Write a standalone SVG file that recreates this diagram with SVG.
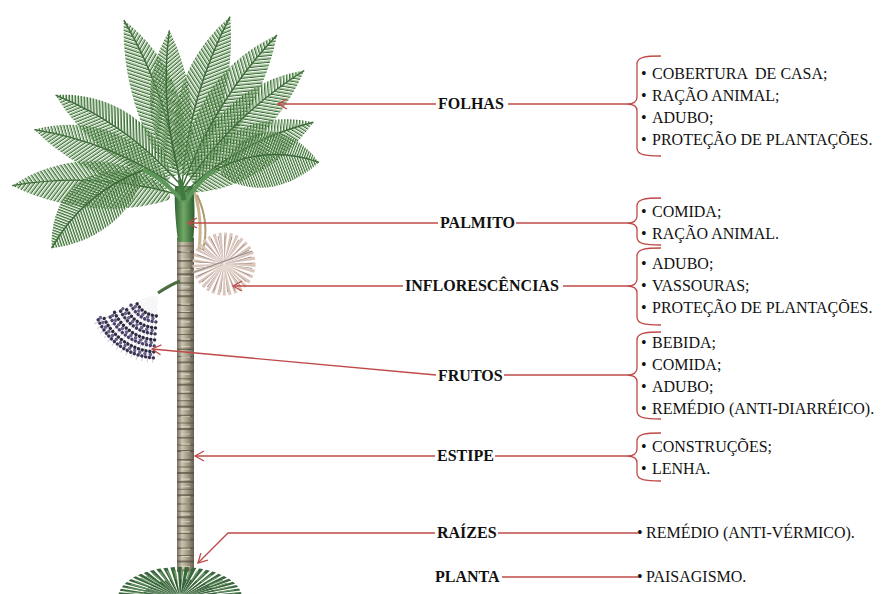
<svg xmlns="http://www.w3.org/2000/svg" width="885" height="594" viewBox="0 0 885 594">
<style>
  .lbl{font-family:"Liberation Serif","Times New Roman",serif;font-size:16px;font-weight:bold;fill:#111}
  .itm{font-family:"Liberation Serif","Times New Roman",serif;font-size:16px;fill:#111;white-space:pre}
  .con{fill:none;stroke:#bf4a47;stroke-width:1.3}
  .brk{fill:none;stroke:#bf4a47;stroke-width:1.3}
  .bead{fill:none;stroke-linecap:round;stroke-width:3.4}
</style>
<defs>
  <!-- leaflet stripes: upper side slants toward the tip, lower side droops -->
  <pattern id="lfU" patternUnits="userSpaceOnUse" width="2" height="6" patternTransform="rotate(35)">
    <rect width="0.7" height="6" fill="#3d6b3a"/>
    <rect x="0.7" width="0.6" height="6" fill="#80ad73"/>
  </pattern>
  <pattern id="lfD" patternUnits="userSpaceOnUse" width="2" height="6" patternTransform="rotate(-35)">
    <rect width="0.7" height="6" fill="#3a6837"/>
    <rect x="0.7" width="0.6" height="6" fill="#86b379"/>
  </pattern>
  <linearGradient id="trunkG" x1="0" x2="1" y1="0" y2="0">
    <stop offset="0" stop-color="#77705f"/>
    <stop offset="0.3" stop-color="#cbc4b0"/>
    <stop offset="0.6" stop-color="#a59e8a"/>
    <stop offset="1" stop-color="#666050"/>
  </linearGradient>
  <linearGradient id="shaftG" x1="0" x2="1" y1="0" y2="0">
    <stop offset="0" stop-color="#2f6431"/>
    <stop offset="0.45" stop-color="#72a866"/>
    <stop offset="1" stop-color="#2c5c2e"/>
  </linearGradient>
  <!-- one frond, base at origin, tip at x=100 -->
  <g id="frond">
    <path d="M6,-1 C30,-26 70,-26 100,-4 Q50,-14 6,-1 Z" fill="url(#lfU)"/>
    <path d="M100,-4 C72,10 35,14 6,3 L6,-1 Q50,-14 100,-4 Z" fill="url(#lfD)"/>
    <path d="M0,0 Q50,-14 100,-4" fill="none" stroke="#3b6a38" stroke-width="1.4" vector-effect="non-scaling-stroke"/>
  </g>
  <marker id="ah" markerUnits="userSpaceOnUse" markerWidth="12" markerHeight="12" viewBox="-1 -6 12 12" refX="0" refY="0" orient="auto" overflow="visible">
    <path d="M9,-5 L0,0 L9,5" fill="none" stroke="#bf4a47" stroke-width="1.3"/>
  </marker>
</defs>

<rect width="885" height="594" fill="#ffffff"/>

<g id="tree">
  <!-- stem -->
  <rect x="177" y="238" width="17" height="334" fill="url(#trunkG)"/>
  <path d="M185.5,238 V572" stroke="#4e493d" stroke-width="17" stroke-dasharray="1.6 6 1 4.5 2 7" opacity="0.65"/>
  <path d="M185.5,241 V572" stroke="#e2dccb" stroke-width="9" stroke-dasharray="1 9 1.5 6" opacity="0.6"/>

  <!-- ground tuft -->
  <g transform="translate(180,598) scale(2,1)">
    <path d="M-17,0 A17,17 0 0 1 17,0" fill="none" stroke="#3a673d" stroke-width="28" stroke-dasharray="1.2 0.8"/>
    <path d="M-16,0 A16,16 0 0 1 16,0" fill="none" stroke="#6f9c68" stroke-width="24" stroke-dasharray="0.6 1.6" stroke-dashoffset="0.9"/>
    <path d="M-12,0 A12,12 0 0 1 12,0" fill="none" stroke="#2e5532" stroke-width="14" stroke-dasharray="0.5 1.2"/>
  </g>

  <!-- spathes and crownshaft -->
  <path d="M193,188 Q203,215 199,250" fill="none" stroke="#c9b68f" stroke-width="3"/>
  <path d="M197,195 Q210,222 203,250" fill="none" stroke="#b09a70" stroke-width="2"/>
  <path d="M175,186 C174,205 176,225 178,242 L193,242 C195,222 195,204 193,186 Z" fill="url(#shaftG)"/>

  <!-- crown: back fronds first -->
  <use href="#frond" transform="translate(180,185) rotate(-110.8) scale(1.74,-1.5)"/>
  <use href="#frond" transform="translate(182,185) rotate(-72.1) scale(1.75,1.5)"/>
  <use href="#frond" transform="translate(182,185) rotate(-92.6) scale(1.55,1.4)"/>
  <use href="#frond" transform="translate(183,185) rotate(-56) scale(1.77,1.5)"/>
  <use href="#frond" transform="translate(184,188) rotate(-42.3) scale(1.68,1.5)"/>
  <use href="#frond" transform="translate(178,182) rotate(-146.9) scale(1.5,-1.5)"/>
  <use href="#frond" transform="translate(178,188) rotate(-160.1) scale(1.55,-1.5)"/>
  <use href="#frond" transform="translate(185,192) rotate(-26) scale(1.46,1.6)"/>
  <use href="#frond" transform="translate(180,195) rotate(-179) scale(1.68,-1.6)"/>
  <use href="#frond" transform="translate(215,170) rotate(0) scale(1.04,1.9)"/>
  <use href="#frond" transform="translate(143,170) rotate(136) scale(1.2,-1.8)"/>

  <!-- petioles -->
  <path d="M183,202 Q162,177 143,170" fill="none" stroke="#5d985a" stroke-width="4"/>
  <path d="M186,202 Q198,180 215,170" fill="none" stroke="#5d985a" stroke-width="4"/>
  <path d="M184,200 Q182,190 180,180" fill="none" stroke="#3f7a3e" stroke-width="5"/>

  <!-- inflorescence -->
  <circle cx="224" cy="264" r="16" fill="none" stroke="#dcc6bc" stroke-width="31" stroke-dasharray="1.6 1.4"/>
  <circle cx="224" cy="264" r="15" fill="none" stroke="#8f8079" stroke-width="27" stroke-dasharray="0.4 3.4" stroke-dashoffset="1.6"/>
  <path d="M192,273 L252,251" stroke="#9a8c86" stroke-width="1.2"/>

  <!-- fruit bunch -->
  <path d="M180,281 Q170,285 158,293" fill="none" stroke="#4d6e43" stroke-width="3"/>
  <path d="M155.35,329.9 A38,38 0 0 1 123.3,307.45" fill="none" stroke="#bdb9c6" stroke-width="66" stroke-dasharray="0.5 2.5" opacity="0.8"/>
  <g class="bead" stroke-dasharray="0.1 3.8">
    <path d="M156.32,315.94 A24,24 0 0 1 136.08,301.76" stroke="#2d2940"/>
    <path d="M155.91,321.93 A30,30 0 0 1 130.59,304.2" stroke="#4b4068"/>
    <path d="M155.49,327.91 A36,36 0 0 1 125.11,306.64" stroke="#2d2940"/>
    <path d="M155.07,333.9 A42,42 0 0 1 119.63,309.08" stroke="#3a3355"/>
    <path d="M154.65,339.88 A48,48 0 0 1 114.15,311.52" stroke="#2d2940"/>
    <path d="M154.23,345.87 A54,54 0 0 1 108.67,313.96" stroke="#4b4068"/>
    <path d="M153.81,351.86 A60,60 0 0 1 103.19,316.4" stroke="#2d2940"/>
    <path d="M153.39,357.84 A66,66 0 0 1 97.71,318.84" stroke="#3a3355"/>
  </g>
  <g class="bead" stroke-dasharray="0.1 5.3" stroke-dashoffset="2.2" stroke-width="2.6">
    <path d="M156.1,318.9 A27,27 0 0 1 133.3,303" stroke="#6a6088"/>
    <path d="M155.3,330.9 A39,39 0 0 1 122.4,307.9" stroke="#6a6088"/>
    <path d="M154.4,342.9 A51,51 0 0 1 111.4,312.7" stroke="#6a6088"/>
    <path d="M153.6,354.8 A63,63 0 0 1 100.4,317.6" stroke="#6a6088"/>
  </g>
</g>

<g id="connectors">
  <path class="con" d="M278,104 H436" marker-start="url(#ah)"/>
  <path class="con" d="M508,104 H627"/>
  <path class="con" d="M188,223 H438" marker-start="url(#ah)"/>
  <path class="con" d="M516,223 H627"/>
  <path class="con" d="M233,286 H403" marker-start="url(#ah)"/>
  <path class="con" d="M563,286 H627"/>
  <path class="con" d="M152,349 L436,375" marker-start="url(#ah)"/>
  <path class="con" d="M504,375 H627"/>
  <path class="con" d="M195,456 H435" marker-start="url(#ah)"/>
  <path class="con" d="M495,456 H627"/>
  <path class="con" d="M198,563 L228,533 H435" marker-start="url(#ah)"/>
  <path class="con" d="M498,533 H638"/>
  <path class="con" d="M502,577 H638"/>
</g>

<g id="node-folhas">
  <text class="lbl" x="438" y="109">FOLHAS</text>
  <path class="brk" d="M661,56 C645,56 637,57 637,64 V97 C637,102 633,104 627,104 C633,104 637,106 637,111 V148 C637,155 645,156 661,156"/>
  <text class="itm" y="79" xml:space="preserve"><tspan x="641">•</tspan><tspan x="652">COBERTURA  DE CASA;</tspan></text>
  <text class="itm" y="101"><tspan x="641">•</tspan><tspan x="652">RAÇÃO ANIMAL;</tspan></text>
  <text class="itm" y="123"><tspan x="641">•</tspan><tspan x="652">ADUBO;</tspan></text>
  <text class="itm" y="145"><tspan x="641">•</tspan><tspan x="652">PROTEÇÃO DE PLANTAÇÕES.</tspan></text>
</g>

<g id="node-palmito">
  <text class="lbl" x="440" y="228">PALMITO</text>
  <path class="brk" d="M661,198 C645,198 637,199 637,206 V216 C637,221 633,223 627,223 C633,223 637,225 637,230 V237 C637,244 645,245 661,245"/>
  <text class="itm" y="217"><tspan x="641">•</tspan><tspan x="652">COMIDA;</tspan></text>
  <text class="itm" y="239"><tspan x="641">•</tspan><tspan x="652">RAÇÃO ANIMAL.</tspan></text>
</g>

<g id="node-inflorescencias">
  <text class="lbl" x="405" y="291">INFLORESCÊNCIAS</text>
  <path class="brk" d="M661,248 C645,248 637,249 637,256 V279 C637,284 633,286 627,286 C633,286 637,288 637,293 V317 C637,324 645,325 661,325"/>
  <text class="itm" y="269"><tspan x="641">•</tspan><tspan x="652">ADUBO;</tspan></text>
  <text class="itm" y="291"><tspan x="641">•</tspan><tspan x="652">VASSOURAS;</tspan></text>
  <text class="itm" y="313"><tspan x="641">•</tspan><tspan x="652">PROTEÇÃO DE PLANTAÇÕES.</tspan></text>
</g>

<g id="node-frutos">
  <text class="lbl" x="438" y="381">FRUTOS</text>
  <path class="brk" d="M661,332 C645,332 637,333 637,340 V368 C637,373 633,375 627,375 C633,375 637,377 637,382 V411 C637,418 645,419 661,419"/>
  <text class="itm" y="348"><tspan x="641">•</tspan><tspan x="652">BEBIDA;</tspan></text>
  <text class="itm" y="370"><tspan x="641">•</tspan><tspan x="652">COMIDA;</tspan></text>
  <text class="itm" y="392"><tspan x="641">•</tspan><tspan x="652">ADUBO;</tspan></text>
  <text class="itm" y="414"><tspan x="641">•</tspan><tspan x="652">REMÉDIO (ANTI-DIARRÉICO).</tspan></text>
</g>

<g id="node-estipe">
  <text class="lbl" x="437" y="461">ESTIPE</text>
  <path class="brk" d="M661,433 C645,433 637,434 637,441 V449 C637,454 633,456 627,456 C633,456 637,458 637,463 V473 C637,480 645,481 661,481"/>
  <text class="itm" y="452"><tspan x="641">•</tspan><tspan x="652">CONSTRUÇÕES;</tspan></text>
  <text class="itm" y="474"><tspan x="641">•</tspan><tspan x="652">LENHA.</tspan></text>
</g>

<g id="node-raizes">
  <text class="lbl" x="437" y="538">RAÍZES</text>
  <text class="itm" y="538"><tspan x="637">•</tspan><tspan x="646">REMÉDIO (ANTI-VÉRMICO).</tspan></text>
</g>

<g id="node-planta">
  <text class="lbl" x="435" y="582">PLANTA</text>
  <text class="itm" y="582"><tspan x="637">•</tspan><tspan x="646">PAISAGISMO.</tspan></text>
</g>
</svg>
